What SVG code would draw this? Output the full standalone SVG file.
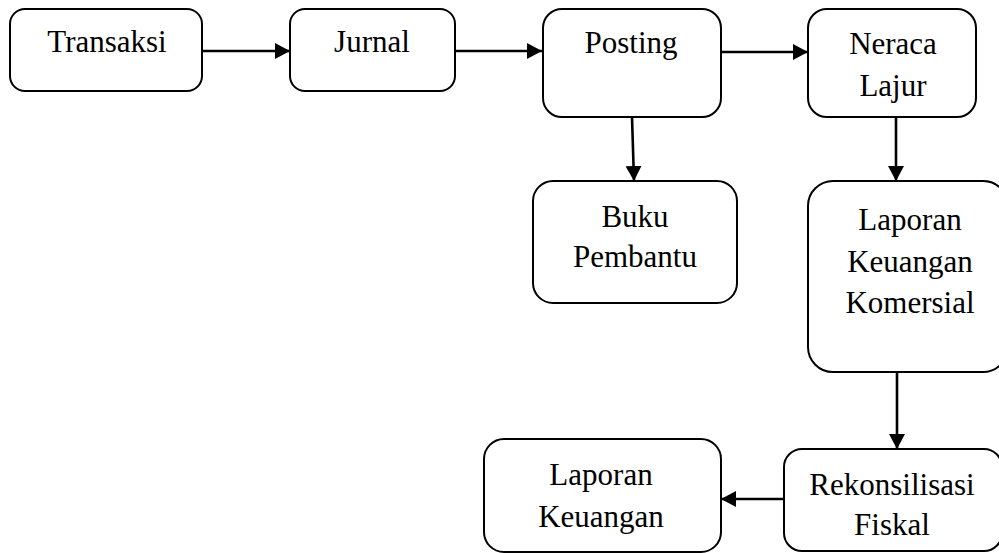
<svg xmlns="http://www.w3.org/2000/svg" width="999" height="553" viewBox="0 0 999 553">
  <defs>
    <marker id="arrow" markerWidth="16" markerHeight="16" refX="15" refY="8" orient="auto" markerUnits="userSpaceOnUse">
      <path d="M0,0 L15,8 L0,16 Z" fill="#000"/>
    </marker>
    <style>
      .box { fill: #fff; stroke: #000; stroke-width: 2; }
      .lbl { font-family: "Liberation Serif", "DejaVu Serif", "Noto Serif", serif; font-size: 31px; fill: #000; text-anchor: middle; }
      .edge { stroke: #000; stroke-width: 2.6; fill: none; marker-end: url(#arrow); }
    </style>
  </defs>
  <rect width="999" height="553" fill="#fff"/>

  <g id="transaksi">
    <rect class="box" x="10" y="9" width="192" height="82" rx="15"/>
    <text class="lbl" x="107" y="52">Transaksi</text>
  </g>
  <g id="jurnal">
    <rect class="box" x="290" y="9" width="165" height="82" rx="15"/>
    <text class="lbl" x="372" y="52">Jurnal</text>
  </g>
  <g id="posting">
    <rect class="box" x="543" y="9" width="178" height="108" rx="19"/>
    <text class="lbl" x="631" y="53">Posting</text>
  </g>
  <g id="neraca-lajur">
    <rect class="box" x="808" y="9" width="168" height="108" rx="19"/>
    <text class="lbl" x="893" y="54">Neraca</text>
    <text class="lbl" x="893" y="96">Lajur</text>
  </g>
  <g id="buku-pembantu">
    <rect class="box" x="533" y="181" width="204" height="122" rx="20"/>
    <text class="lbl" x="635" y="227">Buku</text>
    <text class="lbl" x="635" y="267">Pembantu</text>
  </g>
  <g id="laporan-komersial">
    <rect class="box" x="808" y="181" width="200" height="191" rx="25"/>
    <text class="lbl" x="910" y="230">Laporan</text>
    <text class="lbl" x="910" y="272">Keuangan</text>
    <text class="lbl" x="910" y="313">Komersial</text>
  </g>
  <g id="rekonsilisasi">
    <rect class="box" x="784" y="449" width="218" height="102" rx="18"/>
    <text class="lbl" x="892" y="495">Rekonsilisasi</text>
    <text class="lbl" x="892" y="535">Fiskal</text>
  </g>
  <g id="laporan-keuangan">
    <rect class="box" x="484" y="439" width="237" height="113" rx="20"/>
    <text class="lbl" x="601" y="485">Laporan</text>
    <text class="lbl" x="601" y="527">Keuangan</text>
  </g>

  <g id="connectors">
    <line class="edge" x1="202" y1="51" x2="290" y2="51"/>
    <line class="edge" x1="455" y1="51" x2="542" y2="51"/>
    <line class="edge" x1="721" y1="52" x2="808" y2="52"/>
    <line class="edge" x1="632" y1="117" x2="634" y2="181"/>
    <line class="edge" x1="896" y1="117" x2="896" y2="181"/>
    <line class="edge" x1="897" y1="372" x2="897" y2="449"/>
    <line class="edge" x1="784" y1="499" x2="721" y2="499"/>
  </g>
</svg>
